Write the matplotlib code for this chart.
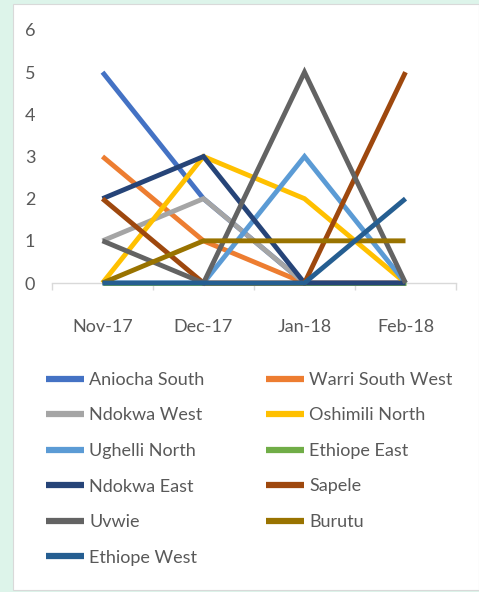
import numpy as np
import matplotlib.pyplot as plt
from matplotlib.patches import Rectangle
from matplotlib.lines import Line2D

plt.rcParams['font.family'] = ['Liberation Sans Narrow', 'Lato', 'DejaVu Sans']

# data
months = ["Nov-17", "Dec-17", "Jan-18", "Feb-18"]
names = ["Aniocha South", "Warri South West", "Ndokwa West", "Oshimili North",
         "Ughelli North", "Ethiope East", "Ndokwa East", "Sapele",
         "Uvwie", "Burutu", "Ethiope West"]
aniocha_south = [5, 2, 0, 0]
warri_south_west = [3, 1, 0, 0]
ndokwa_west = [1, 2, 0, 0]
oshimili_north = [0, 3, 2, 0]
ughelli_north = [0, 0, 3, 0]
ethiope_east = [0, 0, 0, 0]
ndokwa_east = [2, 3, 0, 0]
sapele = [2, 0, 0, 5]
uvwie = [1, 0, 5, 0]
burutu = [0, 1, 1, 1]
ethiope_west = [0, 0, 0, 2]
series = [aniocha_south, warri_south_west, ndokwa_west, oshimili_north,
          ughelli_north, ethiope_east, ndokwa_east, sapele, uvwie, burutu,
          ethiope_west]
colors = ["#4472C4", "#ED7D31", "#A5A5A5", "#FFC000", "#5B9BD5", "#70AD47",
          "#264478", "#9E480E", "#636363", "#997300", "#255E91"]

txt = "#595959"
fig = plt.figure(figsize=(4.79, 5.92), dpi=100)
fig.patch.set_facecolor("#DDF4EA")
fig.patches.append(Rectangle((13 / 479, 2 / 592), 466 / 479, 586 / 592,
                             transform=fig.transFigure, facecolor="white",
                             edgecolor="#D9D9D9", lw=0.8, zorder=-5))

ax = fig.add_axes([52 / 479, 1 - 283 / 592, 404 / 479, 253 / 592])
ax.set_facecolor("none")
x = np.arange(len(months))
for name, vals, c in zip(names, series, colors):
    ax.plot(x, vals, color=c, lw=3.5, label=name, clip_on=False,
            solid_capstyle="butt", solid_joinstyle="miter")

ax.set_xlim(-0.5, 3.5)
ax.set_ylim(0, 6)
ax.set_xticks(x)
ax.set_xticklabels(months)
ax.set_xticks(np.arange(-0.5, 4, 1), minor=True)
ax.tick_params(axis="x", which="major", length=0, pad=26, labelsize=13, labelcolor=txt)
ax.tick_params(axis="x", which="minor", length=5, color="#D9D9D9", width=1)
ax.set_yticks(range(7))
ax.tick_params(axis="y", length=0, pad=12, labelsize=13, labelcolor=txt)
for s in ["top", "right", "left"]:
    ax.spines[s].set_visible(False)
ax.spines["bottom"].set_color("#D9D9D9")
ax.spines["bottom"].set_linewidth(1)
ax.spines["bottom"].set_zorder(0)

handles = [Line2D([], [], color=c, lw=4.5, solid_capstyle="butt") for c in colors]
col1 = [0, 2, 4, 6, 8, 10]
col2 = [1, 3, 5, 7, 9]
common = dict(frameon=False, fontsize=13, handlelength=2.1, handletextpad=0.3,
              labelspacing=1.08, labelcolor=txt, borderaxespad=0, borderpad=0)
leg1 = fig.legend([handles[i] for i in col1], [names[i] for i in col1],
                  loc="upper left", bbox_to_anchor=(46 / 479, 1 - 372 / 592), **common)
leg2 = fig.legend([handles[i] for i in col2], [names[i] for i in col2],
                  loc="upper left", bbox_to_anchor=(266 / 479, 1 - 372 / 592), **common)

fig.savefig("out.png", dpi=100, facecolor=fig.get_facecolor())
